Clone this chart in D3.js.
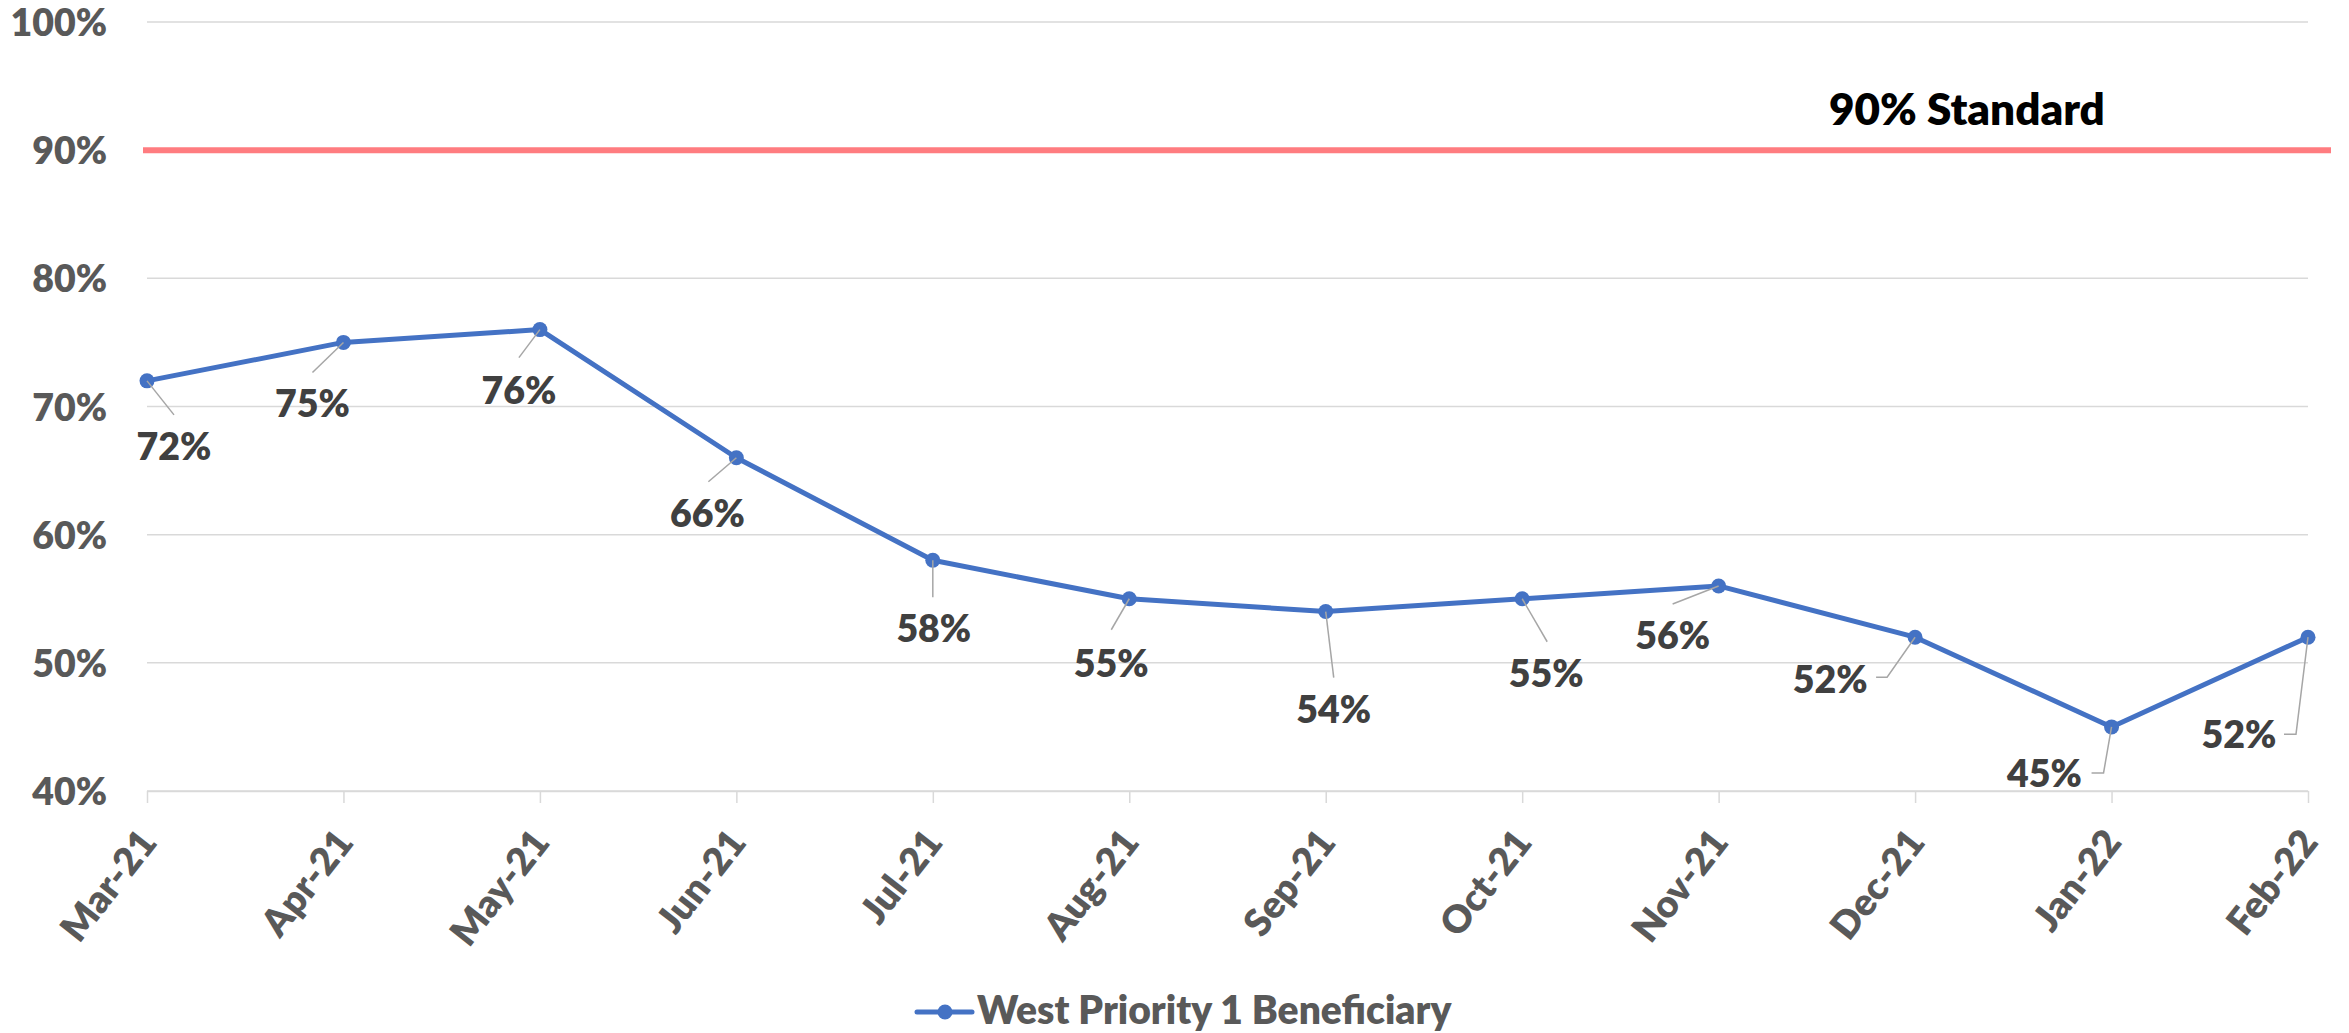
<!DOCTYPE html>
<html>
<head>
<meta charset="utf-8">
<script src="https://cdn.jsdelivr.net/npm/d3@7"></script>
<style>
  html, body { margin: 0; padding: 0; background: #fff; }
  svg { display: block; }
  text { font-family: Lato, "Open Sans", sans-serif; font-weight: 800; }
</style>
</head>
<body>
<svg id="chart" width="2349" height="1033"></svg>
<script>
// ---- data ----
const months = ["Mar-21","Apr-21","May-21","Jun-21","Jul-21","Aug-21","Sep-21","Oct-21","Nov-21","Dec-21","Jan-22","Feb-22"];
const values = [0.72,0.75,0.76,0.66,0.58,0.55,0.54,0.55,0.56,0.52,0.45,0.52];
const yTicks = [0.4,0.5,0.6,0.7,0.8,0.9,1.0];
const standardValue = 0.9;
const standardLabel = "90% Standard";
const seriesName = "West Priority 1 Beneficiary";

// label placement offsets (px, relative to the point)
const labelLayout = [
  {dx: 27, dy: 79, leader: [[27, 34]]},
  {dx: -31, dy: 75, leader: [[-31, 30]]},
  {dx: -21, dy: 74, leader: [[-21, 28]]},
  {dx: -29, dy: 69, leader: [[-28, 24]]},
  {dx: 1, dy: 82, leader: [[0, 37]]},
  {dx: -18, dy: 78, leader: [[-18, 31]]},
  {dx: 8, dy: 111, leader: [[8, 66]]},
  {dx: 24, dy: 88, leader: [[25, 43]]},
  {dx: -46, dy: 63, leader: [[-46, 18]]},
  {dx: -85, dy: 56, leader: [[-28, 40], [-39, 40]]},
  {dx: -67, dy: 60, leader: [[-8, 46], [-20, 46]]},
  {dx: -69, dy: 111, leader: [[-12, 97], [-24, 97]]}
];

(function () {
const svg = d3.select("#chart");
const pLeft = 147, pRight = 2308, pTop = 22, pBottom = 791;

const x = d3.scalePoint().domain(months).range([pLeft, pRight]);
const y = d3.scaleLinear().domain([0.4, 1.0]).range([pBottom, pTop]);

// gridlines
svg.append("g").selectAll("line").data(yTicks).join("line")
  .attr("x1", pLeft).attr("x2", pRight)
  .attr("y1", d => y(d)).attr("y2", d => y(d))
  .attr("stroke", "#D9D9D9").attr("stroke-width", 1.5);

// y axis labels
const yAxis = d3.axisLeft(y).tickValues(yTicks).tickFormat(d3.format(".0%")).tickSize(0).tickPadding(0);
const gy = svg.append("g").attr("transform", `translate(107,0)`).call(yAxis);
gy.select(".domain").remove();
gy.selectAll("text").attr("fill", "#595959").attr("font-size", 37.5)
  .attr("font-family", "Lato, sans-serif").attr("font-weight", 800).attr("dy", "0.36em");

// x axis
const xAxis = d3.axisBottom(x).tickSize(12).tickSizeOuter(0).tickPadding(0);
const gx = svg.append("g").attr("transform", `translate(0,${pBottom})`).call(xAxis);
gx.select(".domain").attr("stroke", "#D9D9D9").attr("stroke-width", 1.5);
gx.selectAll(".tick line").attr("stroke", "#D9D9D9").attr("stroke-width", 1.5);
gx.selectAll("text")
  .attr("fill", "#595959").attr("font-size", 38)
  .attr("font-family", "Lato, sans-serif").attr("font-weight", 800)
  .attr("text-anchor", "end")
  .attr("y", 0).attr("dy", 0)
  .attr("transform", "translate(11,52) rotate(-52)");

// standard line
svg.append("line")
  .attr("x1", 143).attr("x2", 2331)
  .attr("y1", y(standardValue)).attr("y2", y(standardValue))
  .attr("stroke", "#FF7C80").attr("stroke-width", 6);
svg.append("text")
  .attr("x", 1829).attr("y", y(standardValue) - 25)
  .attr("font-size", 44).attr("fill", "#000")
  .text(standardLabel);

// series line
const line = d3.line().x((d, i) => x(months[i])).y(d => y(d));
svg.append("path").datum(values)
  .attr("d", line).attr("fill", "none")
  .attr("stroke", "#4472C4").attr("stroke-width", 5).attr("stroke-linejoin", "round");

svg.append("g").selectAll("circle").data(values).join("circle")
  .attr("cx", (d, i) => x(months[i])).attr("cy", d => y(d)).attr("r", 7.5)
  .attr("fill", "#4472C4");

// leader lines
svg.append("g").selectAll("path").data(values).join("path")
  .attr("d", (d, i) => {
    const px = x(months[i]), py = y(d);
    const pts = [[px, py]].concat(labelLayout[i].leader.map(p => [px + p[0], py + p[1]]));
    return d3.line()(pts);
  })
  .attr("fill", "none").attr("stroke", "#A6A6A6").attr("stroke-width", 1.5);

// data labels
svg.append("g").selectAll("text").data(values).join("text")
  .attr("x", (d, i) => x(months[i]) + labelLayout[i].dx)
  .attr("y", (d, i) => y(d) + labelLayout[i].dy)
  .attr("text-anchor", "middle")
  .attr("font-size", 37.5).attr("fill", "#404040")
  .text(d => d3.format(".0%")(d));

// legend
const lg = svg.append("g").attr("transform", "translate(917,1012)");
lg.append("line").attr("x1", 0).attr("x2", 55).attr("y1", 0).attr("y2", 0)
  .attr("stroke", "#4472C4").attr("stroke-width", 5).attr("stroke-linecap", "round");
lg.append("circle").attr("cx", 28).attr("cy", 0).attr("r", 7.5).attr("fill", "#4472C4");
lg.append("text").attr("x", 60).attr("y", 12).attr("font-size", 39).attr("fill", "#595959").text(seriesName);
})();
</script>
</body>
</html>
